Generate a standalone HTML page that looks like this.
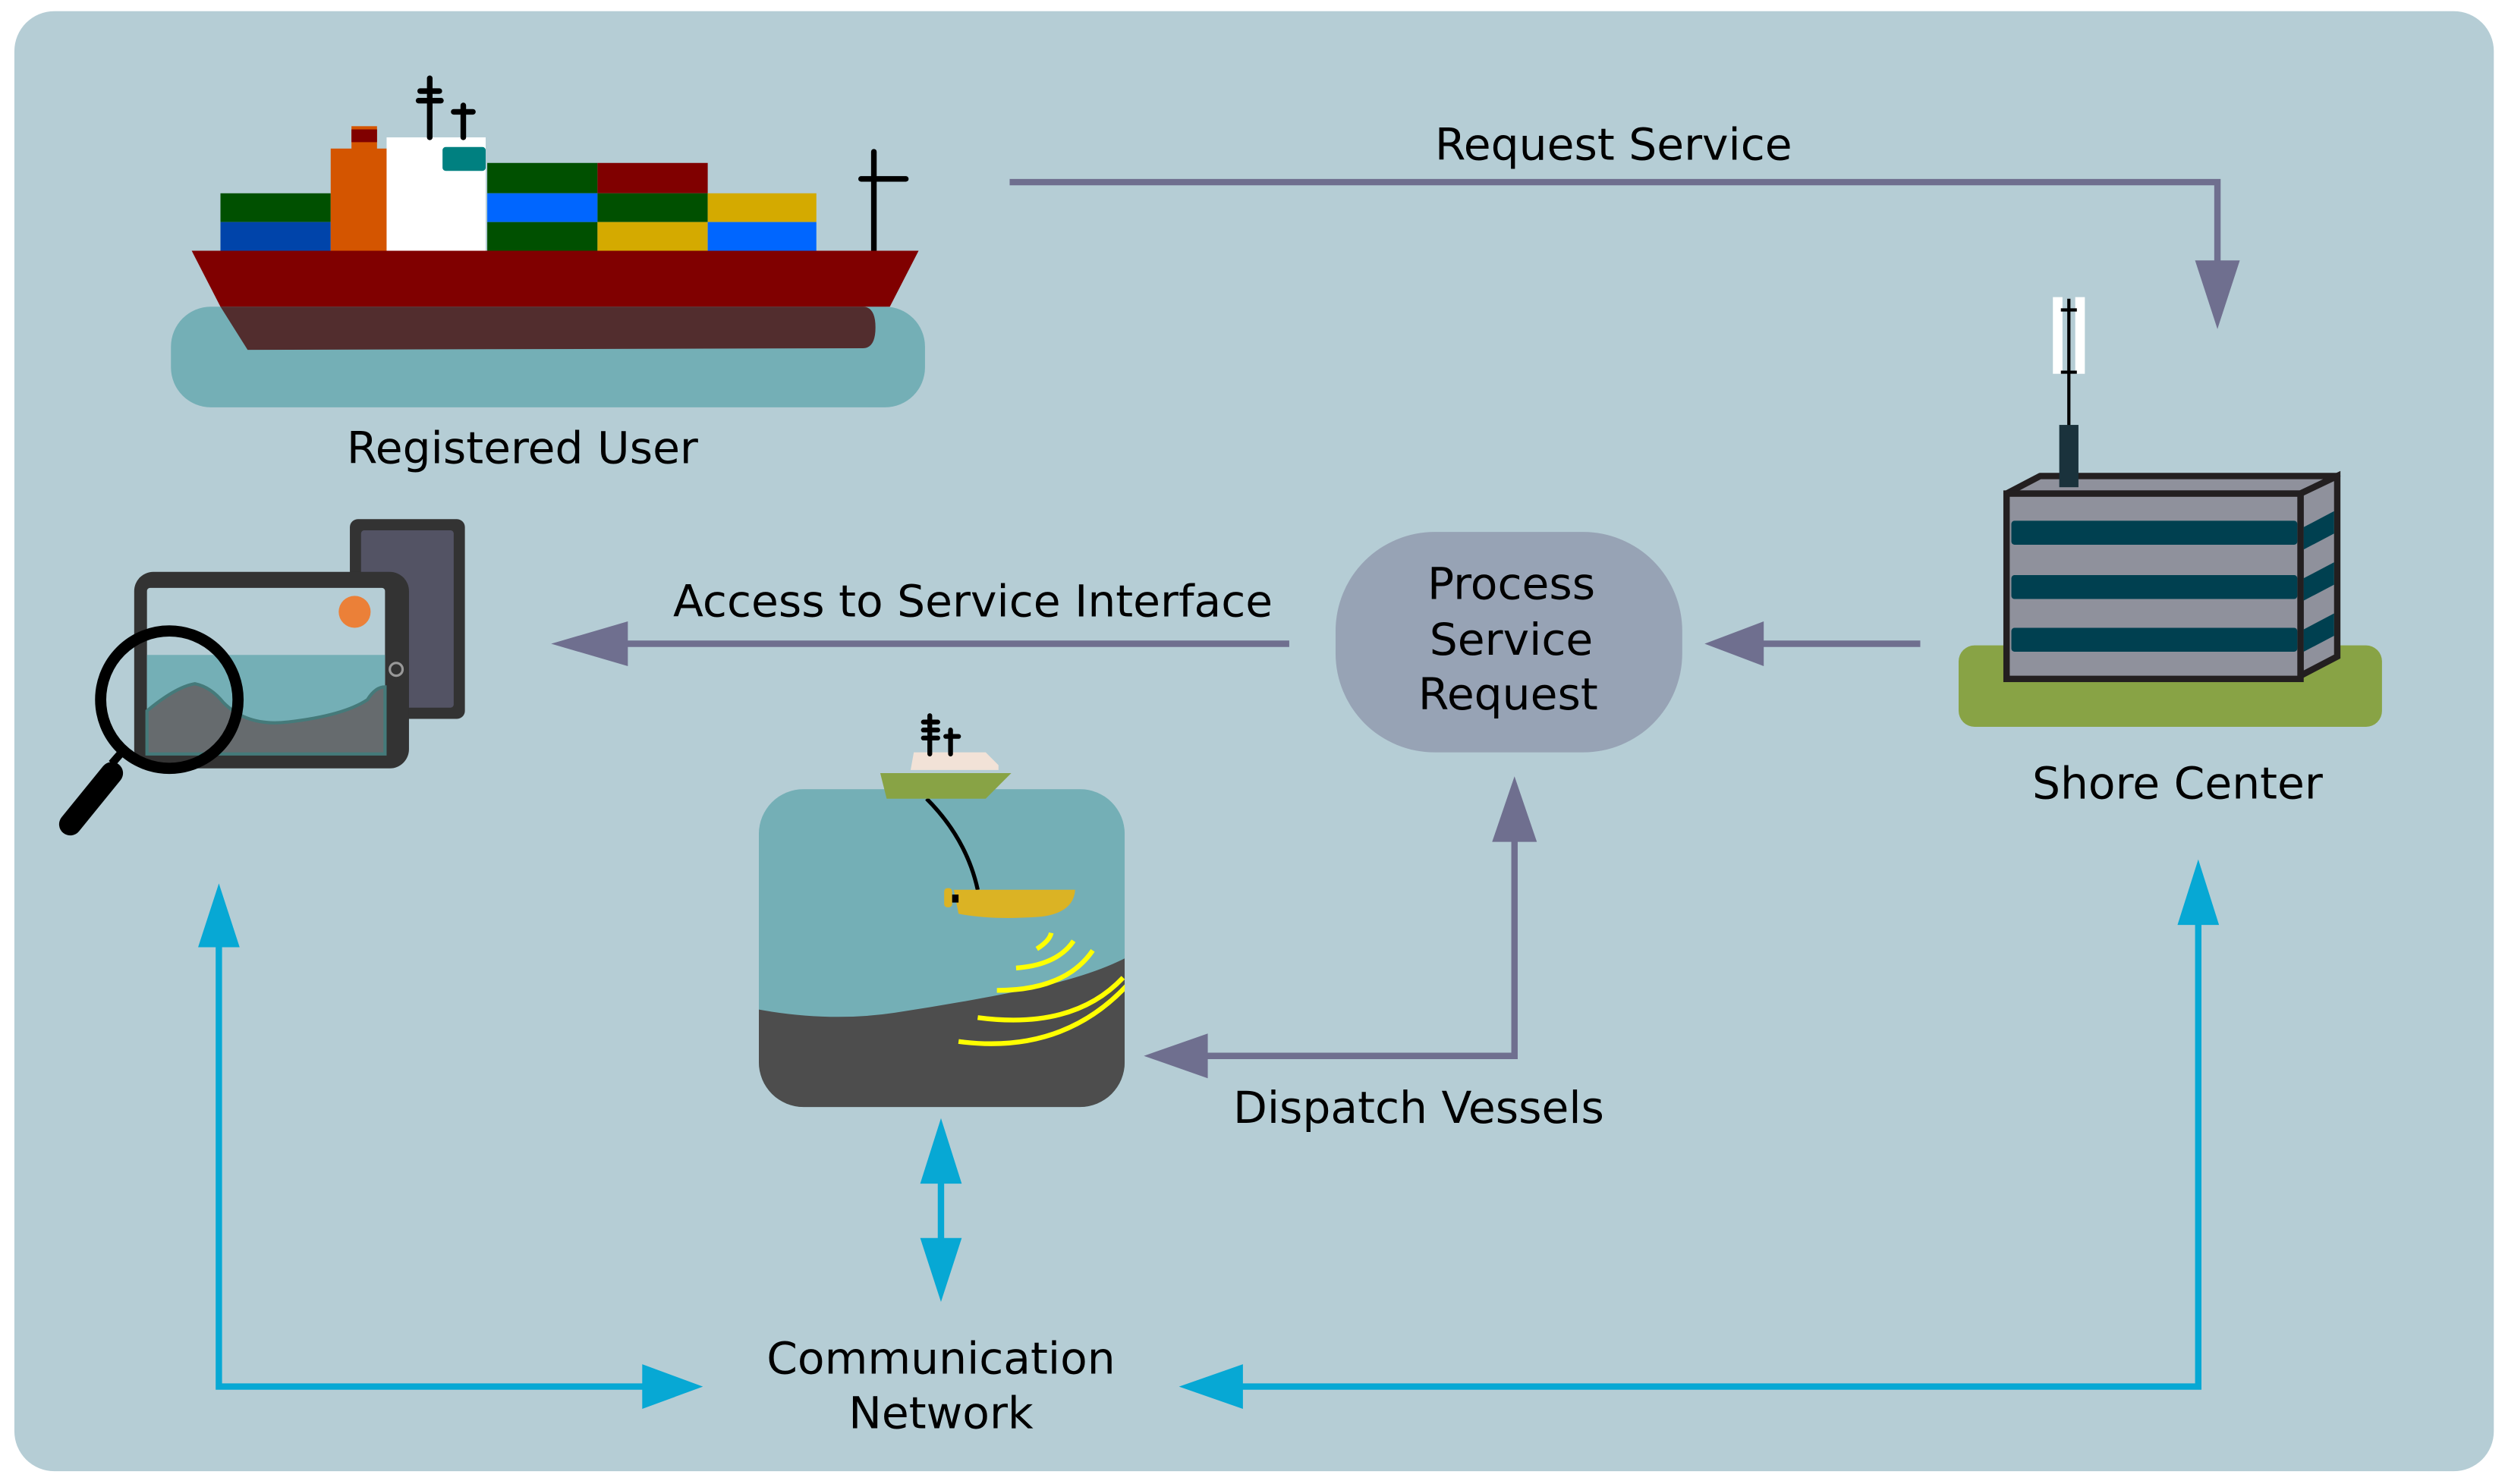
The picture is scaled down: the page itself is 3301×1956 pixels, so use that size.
<!DOCTYPE html>
<html><head><meta charset="utf-8"><style>
html,body{margin:0;padding:0;background:#fff;}
svg{display:block;}
text{font-family:"DejaVu Sans","Liberation Sans",sans-serif;font-size:27.7px;fill:#000;text-anchor:middle;}
</style></head><body>
<svg width="3301" height="1956" viewBox="0 0 1568 929" preserveAspectRatio="none" xmlns="http://www.w3.org/2000/svg">
<rect x="9" y="7" width="1552" height="914" rx="25" fill="#b5cdd5"/>

<!-- Ship -->
<rect x="107" y="192" width="472" height="63" rx="25" fill="#74afb6"/>
<rect x="138" y="121" width="69" height="18" fill="#005000"/>
<rect x="138" y="139" width="69" height="18" fill="#0044aa"/>
<rect x="220" y="79" width="16" height="16" fill="#d45500"/>
<rect x="220" y="81" width="16" height="8" fill="#800000"/>
<rect x="207" y="93" width="35" height="64" fill="#d45500"/>
<rect x="242" y="86" width="62" height="71" fill="#fff"/>
<rect x="277" y="92" width="27" height="15" rx="2" fill="#008080"/>
<g stroke="#000" stroke-width="3.5" stroke-linecap="round">
<line x1="269" y1="49" x2="269" y2="86"/><line x1="263" y1="57" x2="275" y2="57"/><line x1="262" y1="63" x2="276" y2="63"/>
<line x1="290" y1="66" x2="290" y2="86"/><line x1="284" y1="70" x2="296" y2="70"/>
<line x1="547" y1="95" x2="547" y2="157"/><line x1="539" y1="112" x2="567" y2="112"/>
</g>
<rect x="305" y="102" width="69" height="19" fill="#005000"/>
<rect x="305" y="121" width="69" height="18" fill="#0066ff"/>
<rect x="305" y="139" width="69" height="18" fill="#005000"/>
<rect x="374" y="102" width="69" height="19" fill="#800000"/>
<rect x="374" y="121" width="69" height="18" fill="#005000"/>
<rect x="374" y="139" width="69" height="18" fill="#d4aa00"/>
<rect x="443" y="121" width="68" height="18" fill="#d4aa00"/>
<rect x="443" y="139" width="68" height="18" fill="#0066ff"/>
<polygon points="120,157 575,157 557,192 138,192" fill="#800000"/>
<path d="M138,192 L540,192 Q548,192 548,205 Q548,218 540,218 L155,219 Z" fill="#522d2e"/>
<text x="327" y="290">Registered User</text>

<!-- Request Service -->
<polyline points="632,114 1388,114 1388,168" fill="none" stroke="#6f6f8f" stroke-width="4"/>
<polygon points="1374,163 1402,163 1388,206" fill="#6f6f8f"/>
<text x="1010" y="100">Request Service</text>

<!-- Shore center -->
<rect x="1226" y="404" width="265" height="51" rx="10" fill="#88a345"/>
<rect x="1285" y="186" width="6" height="48" fill="#fff"/>
<rect x="1299" y="186" width="6" height="48" fill="#fff"/>
<line x1="1295" y1="187" x2="1295" y2="268" stroke="#000" stroke-width="2"/>
<line x1="1290" y1="194" x2="1300" y2="194" stroke="#000" stroke-width="2"/>
<line x1="1290" y1="233" x2="1300" y2="233" stroke="#000" stroke-width="2"/>
<polygon points="1256,309 1277,298 1463,298 1440,309" fill="#8f919c" stroke="#231f20" stroke-width="4" stroke-linejoin="round"/>
<rect x="1289" y="266" width="12" height="39" fill="#1a323c"/>
<polygon points="1440,309 1463,298 1463,411 1440,423" fill="#8f919c" stroke="#231f20" stroke-width="4"/>
<rect x="1256" y="309" width="184" height="116" fill="#8f919c" stroke="#231f20" stroke-width="4"/>
<g fill="#004050">
<rect x="1259" y="326" width="179" height="15" rx="2"/>
<rect x="1259" y="360" width="179" height="15" rx="2"/>
<rect x="1259" y="393" width="179" height="15" rx="2"/>
<polygon points="1442,330 1461,320 1461,334 1442,344"/>
<polygon points="1442,362 1461,352 1461,366 1442,376"/>
<polygon points="1442,394 1461,384 1461,398 1442,408"/>
</g>
<text x="1363" y="500">Shore Center</text>

<!-- Process Service Request -->
<rect x="836" y="333" width="217" height="138" rx="62" fill="#97a3b5"/>
<text x="946" y="375">Process</text>
<text x="946" y="410">Service</text>
<text x="944" y="444">Request</text>

<line x1="1202" y1="403" x2="1100" y2="403" stroke="#6f6f8f" stroke-width="4"/>
<polygon points="1104,389 1104,417 1067,403" fill="#6f6f8f"/>
<line x1="807" y1="403" x2="388" y2="403" stroke="#6f6f8f" stroke-width="4"/>
<polygon points="393,389 393,417 345,403" fill="#6f6f8f"/>
<text x="609" y="386">Access to Service Interface</text>

<polyline points="948,522 948,661 750,661" fill="none" stroke="#6f6f8f" stroke-width="4"/>
<polygon points="934,527 962,527 948,486" fill="#6f6f8f"/>
<polygon points="756,647 756,675 716,661" fill="#6f6f8f"/>
<text x="888" y="703">Dispatch Vessels</text>

<!-- survey image -->
<clipPath id="sv"><rect x="475" y="494" width="229" height="199" rx="28"/></clipPath>
<g clip-path="url(#sv)">
<rect x="475" y="494" width="229" height="199" fill="#74afb6"/>
<path d="M475,632 Q520,640 560,634 Q600,628 640,620 Q680,612 704,600 L704,700 L475,700 Z" fill="#4d4d4d"/>
</g>
<path d="M580,500 Q605,525 612,557" fill="none" stroke="#000" stroke-width="2.5"/>
<path d="M597,557 L673,557 Q672,572 650,574 Q620,576 600,572 Z" fill="#dbb324"/>
<rect x="591" y="556" width="5" height="12" rx="2" fill="#dbb324"/>
<rect x="596" y="560" width="4" height="5" fill="#000"/>
<g fill="none" stroke="#ffff00" stroke-width="3">
<path d="M649,594 Q657,589 658,584"/>
<path d="M636,606 Q662,604 672,589"/>
<path d="M624,620 Q667,620 684,595"/>
<path d="M612,637 Q672,645 703,612"/>
<path d="M600,652 Q676,662 719,600" clip-path="url(#sv)"/>
</g>
<polygon points="572,471 617,471 625,479 625,482 570,482" fill="#f2e2d7"/>
<g stroke="#000" stroke-width="3" stroke-linecap="round">
<line x1="582" y1="448" x2="582" y2="472"/><line x1="578" y1="452" x2="587" y2="452"/><line x1="578" y1="457" x2="587" y2="457"/><line x1="578" y1="462" x2="587" y2="462"/>
<line x1="595" y1="457" x2="595" y2="472"/><line x1="592" y1="461" x2="600" y2="461"/>
</g>
<polygon points="551,484 633,484 617,500 555,500" fill="#88a345"/>

<!-- tablet -->
<rect x="219" y="325" width="72" height="125" rx="5" fill="#333"/>
<rect x="226" y="332" width="58" height="111" rx="2" fill="#535364"/>
<rect x="84" y="358" width="172" height="123" rx="12" fill="#333"/>
<rect x="92" y="368" width="149" height="104" rx="2" fill="#b5cdd5"/>
<rect x="92" y="410" width="149" height="62" fill="#74afb6"/>
<path d="M92,445 Q110,430 122,428 Q132,430 140,440 Q155,455 180,452 Q215,448 230,438 Q235,430 241,430 L241,472 L92,472 Z" fill="#666b6e" stroke="#457a7a" stroke-width="2"/>
<circle cx="222" cy="383" r="10" fill="#eb8038"/>
<circle cx="248" cy="419" r="4" fill="none" stroke="#999" stroke-width="1.5"/>
<circle cx="106" cy="438" r="43" fill="none" stroke="#000" stroke-width="7"/>
<line x1="77" y1="470" x2="70" y2="478" stroke="#000" stroke-width="5"/>
<line x1="70" y1="484" x2="44" y2="516" stroke="#000" stroke-width="14" stroke-linecap="round"/>

<!-- blue connectors -->
<g stroke="#07a8d4" stroke-width="4" fill="none">
<polyline points="137,588 137,868 405,868"/>
<line x1="589" y1="738" x2="589" y2="778"/>
<polyline points="1376,575 1376,868 775,868"/>
</g>
<g fill="#07a8d4">
<polygon points="124,593 150,593 137,553"/>
<polygon points="402,854 402,882 440,868"/>
<polygon points="576,741 602,741 589,700"/>
<polygon points="576,775 602,775 589,815"/>
<polygon points="1363,579 1389,579 1376,538"/>
<polygon points="778,854 778,882 738,868"/>
</g>
<text x="589" y="860">Communication</text>
<text x="589" y="894">Network</text>
</svg>
</body></html>
